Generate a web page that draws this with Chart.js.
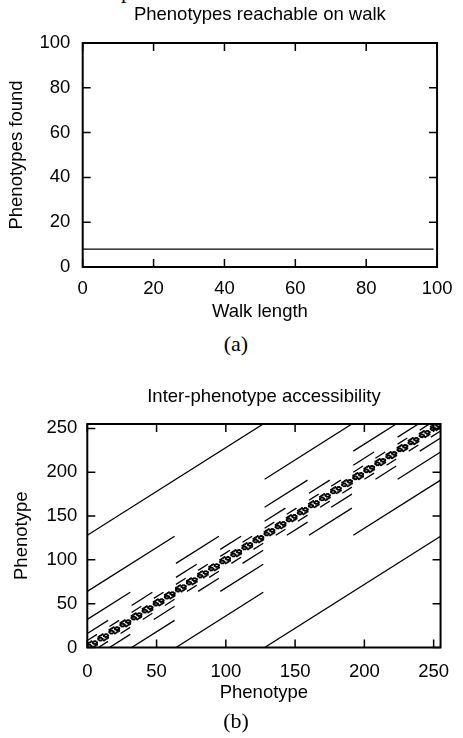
<!DOCTYPE html>
<html>
<head>
<meta charset="utf-8">
<script src="https://cdn.jsdelivr.net/npm/chart.js@4/dist/chart.umd.min.js"></script>
<style>
  html, body { margin: 0; padding: 0; background: #fff; }
  body { width: 463px; height: 738px; position: relative; overflow: hidden; }
  canvas { position: absolute; left: 0; }
  #walk { top: 0; }
  #access { top: 370px; }
  .cap { position: absolute; font-family: 'Liberation Serif', 'Times New Roman', serif; font-size: 22px; line-height: 22px; color: #000; }
</style>
</head>
<body>
<div class="cap" style="left:121px; top:-20px;">p</div>
<canvas id="walk" width="463" height="330"></canvas>
<div class="cap" style="left:0; width:472px; text-align:center; top:333px;">(a)</div>
<canvas id="access" width="463" height="368"></canvas>
<div class="cap" style="left:0; width:472px; text-align:center; top:710px;">(b)</div>
<script>
// (a) phenotypes found along a walk
const walkLength = [0, 99];
const phenotypesFound = [8, 8];
const walkTicks = [0, 20, 40, 60, 80, 100];

// (b) accessibility: diagonal runs [from phenotype, to phenotype] and their length
const runs128 = [[0, 128], [128, 0]];
const runs64 = [[0, 64], [64, 0], [128, 192], [192, 128]];
const runs32 = [[0, 32], [32, 0], [64, 96], [96, 64], [128, 160], [160, 128], [192, 224], [224, 192]];
const runs16 = [[0, 16], [16, 0], [32, 48], [48, 32], [64, 80], [80, 64], [96, 112], [112, 96],
  [128, 144], [144, 128], [160, 176], [176, 160], [192, 208], [208, 192], [224, 240], [240, 224]];
const runs8 = [[0, 8], [8, 0], [16, 24], [24, 16], [32, 40], [40, 32], [48, 56], [56, 48],
  [64, 72], [72, 64], [80, 88], [88, 80], [96, 104], [104, 96], [112, 120], [120, 112],
  [128, 136], [136, 128], [144, 152], [152, 144], [160, 168], [168, 160], [176, 184], [184, 176],
  [192, 200], [200, 192], [208, 216], [216, 208], [224, 232], [232, 224], [240, 248], [248, 240]];
const runLengths = [127, 63, 31, 15, 7];

// small flips inside each block of 8 phenotypes (the knots on the diagonal)
const blockStarts = [0, 8, 16, 24, 32, 40, 48, 56, 64, 72, 80, 88, 96, 104, 112, 120,
  128, 136, 144, 152, 160, 168, 176, 184, 192, 200, 208, 216, 224, 232, 240, 248];
const blockPattern = [
  [0, 1], [1, 0], [2, 3], [3, 2], [4, 5], [5, 4], [6, 7], [7, 6],
  [0, 2], [1, 3], [2, 0], [3, 1], [4, 6], [5, 7], [6, 4], [7, 5],
  [0, 4], [1, 5], [2, 6], [3, 7], [4, 0], [5, 1], [6, 2], [7, 3]];
const accessTicks = [0, 50, 100, 150, 200, 250];

Chart.defaults.font.family = "'Liberation Sans', Arial, sans-serif";
Chart.defaults.font.size = 18.5;
Chart.defaults.color = '#000';

// gnuplot style frame with inward ticks on all four sides
const frame = {
  id: 'frame',
  afterDraw(chart) {
    const { ctx, chartArea: a, scales } = chart;
    ctx.save();
    ctx.strokeStyle = '#000';
    ctx.lineWidth = 1.5;
    ctx.beginPath();
    scales.x.ticks.forEach(t => {
      const px = scales.x.getPixelForValue(t.value);
      ctx.moveTo(px, a.bottom); ctx.lineTo(px, a.bottom - 8);
      ctx.moveTo(px, a.top); ctx.lineTo(px, a.top + 8);
    });
    scales.y.ticks.forEach(t => {
      const py = scales.y.getPixelForValue(t.value);
      ctx.moveTo(a.left, py); ctx.lineTo(a.left + 8, py);
      ctx.moveTo(a.right, py); ctx.lineTo(a.right - 8, py);
    });
    ctx.stroke();
    ctx.lineWidth = 2;
    ctx.strokeRect(a.left, a.top, a.right - a.left, a.bottom - a.top);
    ctx.restore();
  }
};

function axis(min, max, ticks, title, opts) {
  return {
    type: 'linear',
    min: min,
    max: max,
    grid: { display: false, drawTicks: false },
    border: { display: false },
    ticks: {
      stepSize: ticks[1] - ticks[0],
      includeBounds: false,
      padding: opts.labelPad,
      maxRotation: 0,
      autoSkip: false
    },
    title: { display: true, text: title, padding: opts.titlePad },
    afterFit: opts.fit
  };
}

new Chart(document.getElementById('walk'), {
  type: 'scatter',
  data: {
    datasets: [{
      data: walkLength.map((x, i) => ({ x: x, y: phenotypesFound[i] })),
      showLine: true,
      borderColor: '#000',
      borderWidth: 1.3,
      pointRadius: 0
    }]
  },
  options: {
    responsive: false,
    animation: false,
    events: [],
    devicePixelRatio: 1,
    layout: { padding: { left: 0, right: 16, top: 0, bottom: 0 } },
    plugins: {
      legend: { display: false },
      tooltip: { enabled: false },
      title: {
        display: true,
        text: 'Phenotypes reachable on walk',
        fullSize: false,
        font: { size: 18.5, weight: 'normal' },
        padding: { top: 3.9, bottom: 16.9 }
      }
    },
    scales: {
      x: axis(0, 100, walkTicks, 'Walk length', {
        labelPad: 10.5, titlePad: { top: 0, bottom: 7.4 },
        fit: s => { s.height = 63; }
      }),
      y: axis(0, 100, walkTicks, 'Phenotypes found', {
        labelPad: 12.3, titlePad: { top: 5.4, bottom: 0 },
        fit: s => { s.width = 82.7; }
      })
    }
  },
  plugins: [frame]
});

const runGroups = [runs128, runs64, runs32, runs16, runs8];
const runSets = runGroups.map((runs, g) => {
  const pts = [];
  runs.forEach(([x0, y0]) => {
    pts.push({ x: x0, y: y0 });
    pts.push({ x: x0 + runLengths[g], y: y0 + runLengths[g] });
    pts.push({ x: x0 + runLengths[g], y: null });
  });
  return {
    type: 'line',
    data: pts,
    borderColor: '#000',
    borderWidth: 1.3,
    pointRadius: 0,
    spanGaps: false
  };
});

const knots = [];
blockStarts.forEach(b => blockPattern.forEach(([dx, dy]) => knots.push({ x: b + dx, y: b + dy })));

new Chart(document.getElementById('access'), {
  type: 'scatter',
  data: {
    datasets: runSets.concat([{
      data: knots,
      pointRadius: 1.1,
      pointBorderWidth: 0,
      pointBackgroundColor: '#000',
      borderColor: '#000'
    }])
  },
  options: {
    responsive: false,
    animation: false,
    events: [],
    devicePixelRatio: 1,
    layout: { padding: { left: 0, right: 12.5, top: 0, bottom: 0 } },
    plugins: {
      legend: { display: false },
      tooltip: { enabled: false },
      title: {
        display: true,
        text: 'Inter-phenotype accessibility',
        fullSize: false,
        font: { size: 18.5, weight: 'normal' },
        padding: { top: 15.6, bottom: 16.2 }
      }
    },
    scales: {
      x: axis(0, 255, accessTicks, 'Phenotype', {
        labelPad: 13.5, titlePad: { top: 0, bottom: 33.9 },
        fit: s => { s.height = 90.5; }
      }),
      y: axis(0, 255, accessTicks, 'Phenotype', {
        labelPad: 10, titlePad: { top: 10.4, bottom: 0 },
        fit: s => { s.width = 87.3; }
      })
    }
  },
  plugins: [frame]
});
</script>
</body>
</html>
